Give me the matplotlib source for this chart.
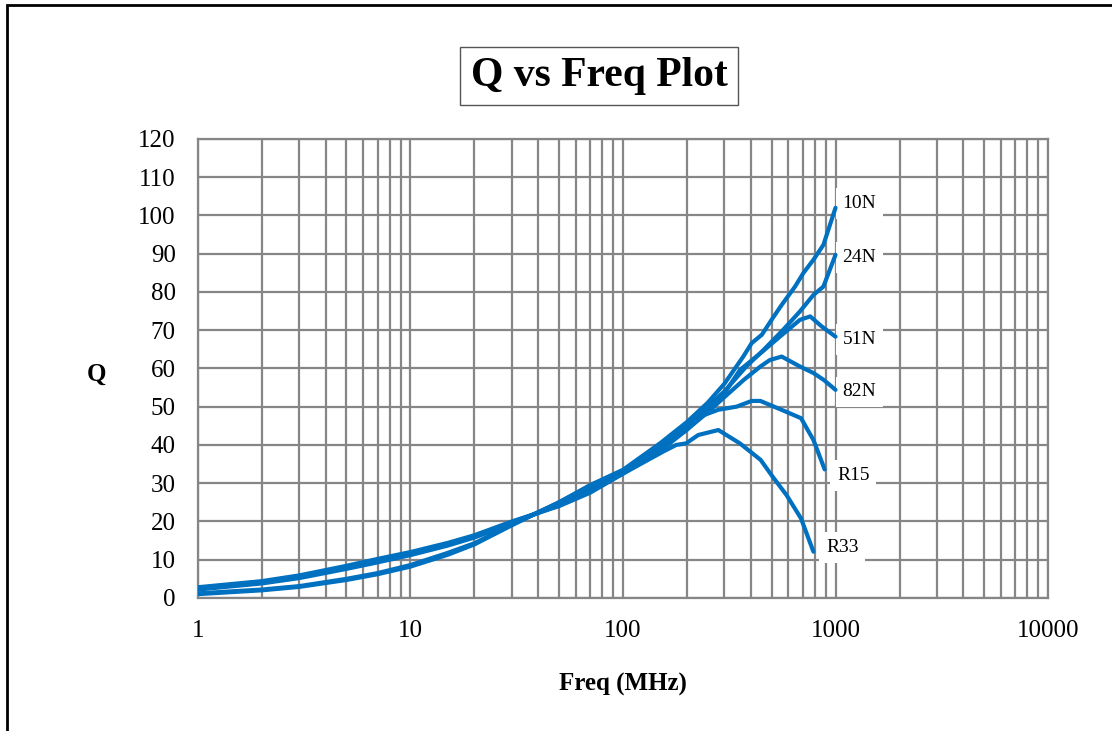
import matplotlib
matplotlib.use('Agg')
from matplotlib import pyplot as plt
from matplotlib.patches import Rectangle

plt.rcParams['font.family'] = ['Liberation Serif', 'DejaVu Serif']

# Q vs frequency (MHz)
f_10n = [1, 2, 3, 5, 7, 10, 15, 20, 30, 50, 70, 100, 150, 200, 250, 300, 368, 403, 450, 500, 558, 645, 705, 787, 877, 1000]
q_10n = [1.0, 2.0, 2.9, 4.7, 6.2, 8.2, 11.3, 14.0, 19.0, 25.0, 29.5, 33.5, 40.5, 46.0, 51.0, 56.0, 63.1, 66.6, 68.8, 72.7, 76.6, 81.4, 84.9, 88.4, 92.3, 102.0]

f_24n = [1, 2, 3, 5, 7, 10, 15, 20, 30, 50, 70, 100, 150, 200, 250, 300, 380, 458, 567, 680, 787, 877, 1000]
q_24n = [1.2, 2.2, 3.1, 5.0, 6.5, 8.6, 11.8, 14.3, 19.2, 25.0, 29.3, 33.3, 40.0, 45.0, 50.0, 54.0, 60.5, 64.8, 70.1, 74.9, 79.2, 81.4, 89.7]

f_51n = [1, 2, 3, 5, 7, 10, 15, 20, 30, 50, 70, 100, 150, 200, 250, 300, 355, 444, 547, 680, 760, 860, 1000]
q_51n = [2.2, 3.8, 5.2, 7.6, 9.3, 11.2, 13.7, 15.8, 19.5, 24.5, 28.5, 33.0, 39.5, 44.5, 49.0, 53.5, 59.6, 64.0, 68.3, 72.7, 73.6, 71.0, 68.3]

f_82n = [1, 2, 3, 5, 7, 10, 15, 20, 30, 50, 70, 100, 150, 200, 250, 300, 370, 443, 491, 558, 680, 787, 880, 1000]
q_82n = [2.4, 4.0, 5.5, 8.0, 9.8, 11.6, 14.0, 16.0, 19.7, 24.3, 28.0, 32.8, 39.0, 44.0, 48.5, 52.5, 57.0, 60.5, 62.2, 63.1, 60.5, 58.8, 57.0, 54.4]

f_r15 = [1, 2, 3, 5, 7, 10, 15, 20, 30, 50, 70, 100, 150, 200, 230, 281, 342, 403, 443, 556, 688, 787, 889]
q_r15 = [2.6, 4.2, 5.7, 8.2, 10.0, 11.8, 14.2, 16.2, 19.8, 24.2, 27.8, 32.5, 38.5, 44.0, 47.4, 49.2, 50.0, 51.5, 51.5, 49.2, 47.0, 41.3, 33.6]

f_r33 = [1, 2, 3, 5, 7, 10, 15, 20, 30, 50, 70, 100, 155, 178, 198, 226, 281, 355, 444, 506, 588, 688, 787]
q_r33 = [2.8, 4.4, 5.9, 8.4, 10.2, 12.0, 14.4, 16.4, 20.0, 24.0, 27.5, 32.5, 38.3, 40.0, 40.4, 42.6, 43.9, 40.4, 36.1, 31.7, 26.9, 20.8, 12.1]

series = [('10N', f_10n, q_10n), ('24N', f_24n, q_24n), ('51N', f_51n, q_51n),
          ('82N', f_82n, q_82n), ('R15', f_r15, q_r15), ('R33', f_r33, q_r33)]
# label offsets from the curve end, in points
label_off = [(5, 3), (5, -2), (5, -2), (5, -1.5), (9, -4.5), (9, 3)]

grid_col = '#868686'
line_col = '#0070C0'

fig = plt.figure(figsize=(11.12, 7.31), dpi=100)
ax = fig.add_axes([0.178, 0.182, 0.7645, 0.628])

for (name, f, q), off in zip(series, label_off):
    ax.plot(f, q, color=line_col, lw=3.0, solid_capstyle='round', solid_joinstyle='round', zorder=3)
    ax.annotate(name, xy=(f[-1], q[-1]), xytext=off, textcoords='offset points',
                fontsize=14, va='center', ha='left', zorder=2.5,
                bbox=dict(boxstyle='square,pad=0.35', fc='white', ec='none'))

ax.set_xscale('log')
ax.set_xlim(1, 10000)
ax.set_ylim(0, 120)
ax.set_yticks(range(0, 121, 10))
ax.set_xticks([1, 10, 100, 1000, 10000])
ax.set_xticklabels(['1', '10', '100', '1000', '10000'])
ax.grid(True, which='both', axis='x', color=grid_col, lw=1.6)
ax.grid(True, which='major', axis='y', color=grid_col, lw=1.6)
ax.set_axisbelow(True)
ax.tick_params(which='both', length=0, labelsize=18, pad=16)
for s in ax.spines.values():
    s.set_color(grid_col)
    s.set_linewidth(1.6)

ax.set_xlabel('Freq (MHz)', fontsize=18, fontweight='bold', labelpad=22)
ax.set_ylabel('Q', fontsize=18, fontweight='bold', rotation=0, va='center', ha='center')
ax.yaxis.set_label_coords(-0.119, 0.488)

fig.text(0.5387, 0.896, 'Q vs Freq Plot', fontsize=30, fontweight='bold', ha='center', va='center',
         bbox=dict(boxstyle='square,pad=0.25', fc='white', ec='#555555', lw=1))

# outer chart frame
fig.patches.append(Rectangle((0.0063, -0.2), 1.2, 0.2 + 0.9925, transform=fig.transFigure,
                             fill=False, ec='black', lw=2))

plt.savefig('out.png', dpi=100)
print('done')
